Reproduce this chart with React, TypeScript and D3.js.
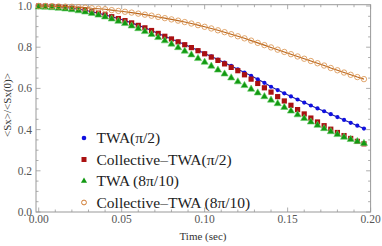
import React, { useEffect, useRef } from 'react';
import * as d3 from 'd3';

// time samples (sec), every 0.004
const times = d3.range(50).map(i => +(i * 0.004).toFixed(3));

const twaPi2 = [1.000, 0.9995, 0.998, 0.996, 0.993, 0.989, 0.984, 0.979, 0.972, 0.965,
  0.957, 0.948, 0.939, 0.929, 0.918, 0.906, 0.894, 0.881, 0.867, 0.853,
  0.840, 0.827, 0.813, 0.799, 0.785, 0.770, 0.755, 0.740, 0.725, 0.709,
  0.693, 0.677, 0.661, 0.644, 0.627, 0.608, 0.592, 0.576, 0.561, 0.546,
  0.531, 0.517, 0.503, 0.489, 0.475, 0.461, 0.447, 0.433, 0.419, 0.405];

const collPi2 = [1.000, 0.9995, 0.998, 0.996, 0.993, 0.989, 0.984, 0.979, 0.972, 0.965,
  0.957, 0.948, 0.939, 0.929, 0.918, 0.906, 0.894, 0.881, 0.867, 0.853,
  0.840, 0.826, 0.812, 0.798, 0.783, 0.768, 0.752, 0.736, 0.719, 0.702,
  0.686, 0.666, 0.645, 0.624, 0.603, 0.582, 0.560, 0.539, 0.518, 0.497,
  0.476, 0.456, 0.437, 0.419, 0.402, 0.386, 0.371, 0.357, 0.343, 0.331];

const twa8Pi10 = [0.995, 0.994, 0.992, 0.989, 0.986, 0.982, 0.977, 0.971, 0.964, 0.956,
  0.947, 0.937, 0.926, 0.915, 0.903, 0.890, 0.876, 0.862, 0.847, 0.831,
  0.815, 0.798, 0.781, 0.763, 0.745, 0.727, 0.708, 0.689, 0.670, 0.651,
  0.632, 0.614, 0.596, 0.578, 0.560, 0.543, 0.526, 0.508, 0.490, 0.472,
  0.454, 0.437, 0.421, 0.405, 0.390, 0.376, 0.363, 0.352, 0.342, 0.333];

const coll8Pi10 = [1.000, 1.000, 0.999, 0.998, 0.997, 0.996, 0.994, 0.992, 0.989, 0.987,
  0.984, 0.980, 0.976, 0.972, 0.968, 0.963, 0.958, 0.953, 0.947, 0.941,
  0.935, 0.929, 0.922, 0.915, 0.907, 0.899, 0.891, 0.882, 0.873, 0.863,
  0.853, 0.843, 0.832, 0.821, 0.810, 0.799, 0.788, 0.777, 0.766, 0.755,
  0.744, 0.733, 0.722, 0.711, 0.699, 0.688, 0.677, 0.666, 0.655, 0.645];

const xTicks = [0, 0.05, 0.1, 0.15, 0.2];
const yTicks = [0, 0.2, 0.4, 0.6, 0.8, 1.0];
const legendLabels = ['TWA(\u03c0/2)', 'Collective\u2013TWA(\u03c0/2)', 'TWA (8\u03c0/10)', 'Collective\u2013TWA (8\u03c0/10)'];

const W = 382, H = 246;
const font = "'Liberation Serif', 'Times New Roman', 'DejaVu Serif', serif";

function App() {
  const ref = useRef(null);

  useEffect(() => {
    document.body.style.margin = '0';
    const svg = d3.select(ref.current);
    svg.selectAll('*').remove();

    // frame box
    const fl = 36, fr = 370.6, ft = 4.7, fb = 212;
    const x = d3.scaleLinear().domain([0, 0.2]).range([38.7, 370.6]);
    const y = d3.scaleLinear().domain([0, 1]).range([212, 6]);

    const g = svg.append('g').style('font-family', font);

    // minor + major ticks, inward on all four sides
    const tickCol = '#999';
    const xMinor = d3.range(0, 0.2001, 0.01);
    const yMinor = d3.range(0, 1.0001, 0.05);
    xMinor.forEach((v, i) => {
      const len = i % 5 === 0 ? 4.5 : 2.5;
      g.append('line').attr('x1', x(v)).attr('x2', x(v)).attr('y1', fb).attr('y2', fb - len)
        .attr('stroke', tickCol).attr('stroke-width', 0.8);
      g.append('line').attr('x1', x(v)).attr('x2', x(v)).attr('y1', ft).attr('y2', ft + len)
        .attr('stroke', tickCol).attr('stroke-width', 0.8);
    });
    yMinor.forEach((v, i) => {
      const len = i % 4 === 0 ? 4.5 : 2.5;
      g.append('line').attr('y1', y(v)).attr('y2', y(v)).attr('x1', fl).attr('x2', fl + len)
        .attr('stroke', tickCol).attr('stroke-width', 0.8);
      g.append('line').attr('y1', y(v)).attr('y2', y(v)).attr('x1', fr).attr('x2', fr - len)
        .attr('stroke', tickCol).attr('stroke-width', 0.8);
    });

    g.append('rect').attr('x', fl).attr('y', ft).attr('width', fr - fl).attr('height', fb - ft)
      .attr('fill', 'none').attr('stroke', '#999').attr('stroke-width', 1);

    // tick labels
    g.selectAll('.xlab').data(xTicks).join('text').attr('class', 'xlab')
      .attr('x', d => x(d)).attr('y', 223).attr('text-anchor', 'middle')
      .style('font-size', '11.5px').attr('fill', '#555')
      .text(d => d3.format('.2f')(d));
    g.selectAll('.ylab').data(yTicks).join('text').attr('class', 'ylab')
      .attr('x', 32).attr('y', d => y(d) + 4).attr('text-anchor', 'end')
      .style('font-size', '11.5px').attr('fill', '#555')
      .text(d => d3.format('.1f')(d));

    // axis titles
    g.append('text').attr('x', 203).attr('y', 240).attr('text-anchor', 'middle')
      .style('font-size', '11px').attr('fill', '#333').text('Time (sec)');
    g.append('text').attr('transform', 'translate(11,105) rotate(-90)').attr('text-anchor', 'middle')
      .style('font-size', '11px').attr('fill', '#333').text('<Sx>/<Sx(0)>');

    const plot = g.append('g');
    const line = d3.line().x(d => x(d[0])).y(d => y(d[1]));

    // TWA(pi/2): blue dots + line
    const blue = times.map((t, i) => [t, twaPi2[i]]);
    plot.append('path').datum(blue).attr('d', line).attr('fill', 'none')
      .attr('stroke', '#1c1ca8').attr('stroke-width', 1.1);
    plot.selectAll('.bdot').data(blue).join('circle').attr('class', 'bdot')
      .attr('cx', d => x(d[0])).attr('cy', d => y(d[1])).attr('r', 2.1).attr('fill', '#1010e0');

    // Collective-TWA(pi/2): dark red squares
    const red = times.map((t, i) => [t, collPi2[i]]);
    plot.selectAll('.rsq').data(red).join('rect').attr('class', 'rsq')
      .attr('x', d => x(d[0]) - 2.6).attr('y', d => y(d[1]) - 2.6).attr('width', 5.2).attr('height', 5.2)
      .attr('fill', '#aa1111');

    // TWA(8pi/10): green triangles
    const green = times.map((t, i) => [t, twa8Pi10[i]]);
    const tri = d3.symbol().type(d3.symbolTriangle).size(22);
    plot.selectAll('.gtri').data(green).join('path').attr('class', 'gtri')
      .attr('transform', d => `translate(${x(d[0])},${y(d[1])})`).attr('d', tri)
      .attr('fill', '#119911').attr('stroke', '#66cc66').attr('stroke-width', 0.6);

    // Collective-TWA(8pi/10): open orange circles + line
    const orange = times.map((t, i) => [t, coll8Pi10[i]]);
    plot.append('path').datum(orange).attr('d', line).attr('fill', 'none')
      .attr('stroke', '#b8651c').attr('stroke-width', 1.1);
    plot.selectAll('.ocirc').data(orange).join('circle').attr('class', 'ocirc')
      .attr('cx', d => x(d[0])).attr('cy', d => y(d[1])).attr('r', 2.7)
      .attr('fill', 'none').attr('stroke', '#d9904a').attr('stroke-width', 0.8);

    // legend
    const lg = g.append('g');
    const rowY = [138, 159.5, 181, 202.5];
    lg.append('circle').attr('cx', 84).attr('cy', rowY[0]).attr('r', 2.3).attr('fill', '#1010e0');
    lg.append('rect').attr('x', 81.5).attr('y', rowY[1] - 2.5).attr('width', 5).attr('height', 5).attr('fill', '#aa1111');
    lg.append('path').attr('transform', `translate(84,${rowY[2]})`).attr('d', d3.symbol().type(d3.symbolTriangle).size(16))
      .attr('fill', '#119911');
    lg.append('circle').attr('cx', 84).attr('cy', rowY[3]).attr('r', 2.4).attr('fill', 'none')
      .attr('stroke', '#d07a30').attr('stroke-width', 1);
    lg.selectAll('.legtext').data(legendLabels).join('text').attr('class', 'legtext')
      .attr('x', 96.5).attr('y', (d, i) => rowY[i] + 5)
      .style('font-size', '15.5px').attr('fill', '#222')
      .text(d => d);
  }, []);

  return <svg ref={ref} width={W} height={H} style={{ display: 'block' }}></svg>;
}

export default App;
